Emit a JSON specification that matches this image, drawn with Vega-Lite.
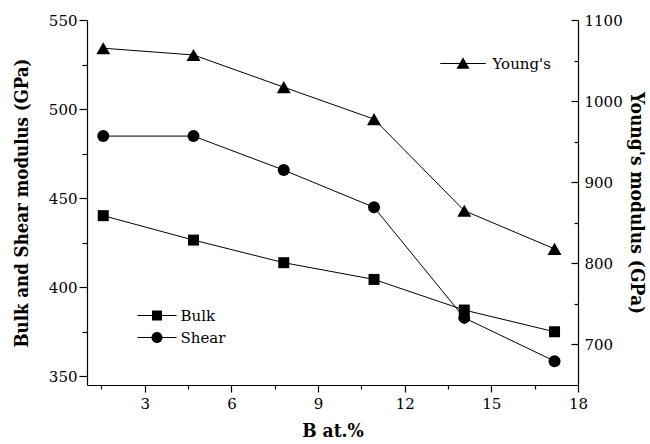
{
  "$schema": "https://vega.github.io/schema/vega-lite/v6.json",
  "width": 491,
  "height": 365,
  "autosize": {"type": "none"},
  "padding": {"left": 87, "top": 20, "right": 72, "bottom": 59},
  "config": {
    "view": {"stroke": null},
    "font": "DejaVu Serif",
    "axis": {
      "grid": false,
      "labelFont": "DejaVu Serif",
      "labelFontSize": 15,
      "labelColor": "black",
      "titleFont": "DejaVu Serif Condensed, DejaVu Serif",
      "titleFontSize": 19,
      "titleFontWeight": "bold",
      "titleColor": "black",
      "domainColor": "black",
      "domainWidth": 1.2,
      "tickColor": "black",
      "tickWidth": 1.2
    },
    "legend": {"labelFont": "DejaVu Serif", "labelFontSize": 15, "labelColor": "black"}
  },
  "data": {
    "values": [
      {"x": 1.5625, "series": "Bulk", "value": 440.1},
      {"x": 4.6875, "series": "Bulk", "value": 426.4},
      {"x": 7.8125, "series": "Bulk", "value": 413.7},
      {"x": 10.9375, "series": "Bulk", "value": 404.3},
      {"x": 14.0625, "series": "Bulk", "value": 387.1},
      {"x": 17.1875, "series": "Bulk", "value": 374.9},
      {"x": 1.5625, "series": "Shear", "value": 484.8},
      {"x": 4.6875, "series": "Shear", "value": 484.8},
      {"x": 7.8125, "series": "Shear", "value": 465.7},
      {"x": 10.9375, "series": "Shear", "value": 444.8},
      {"x": 14.0625, "series": "Shear", "value": 382.7},
      {"x": 17.1875, "series": "Shear", "value": 358.4},
      {"x": 1.5625, "series": "Young's", "value": 1065.2},
      {"x": 4.6875, "series": "Young's", "value": 1056.9},
      {"x": 7.8125, "series": "Young's", "value": 1017.2},
      {"x": 10.9375, "series": "Young's", "value": 977.8},
      {"x": 14.0625, "series": "Young's", "value": 864.9},
      {"x": 17.1875, "series": "Young's", "value": 817.8}
    ]
  },
  "encoding": {
    "x": {
      "field": "x",
      "type": "quantitative",
      "scale": {"domain": [1, 18], "nice": false, "zero": false},
      "axis": {
        "title": "B at.%",
        "values": [1.5, 3, 4.5, 6, 7.5, 9, 10.5, 12, 13.5, 15, 16.5, 18],
        "labelExpr": "datum.value % 3 === 0 ? datum.label : ''",
        "tickSize": {"condition": {"test": "datum.value % 3 === 0", "value": 7}, "value": 4},
        "labelPadding": 4,
        "titlePadding": 10,
        "labelFlush": false
      }
    }
  },
  "layer": [
    {
      "transform": [{"filter": {"field": "series", "oneOf": ["Bulk", "Shear"]}}],
      "encoding": {
        "y": {
          "field": "value",
          "type": "quantitative",
          "scale": {"domain": [345, 550], "nice": false, "zero": false},
          "axis": {
            "orient": "left",
            "title": "Bulk and Shear modulus (GPa)",
            "titleFontSize": 18.5,
            "values": [350, 375, 400, 425, 450, 475, 500, 525, 550],
            "labelExpr": "datum.value % 50 === 0 ? datum.label : ''",
            "tickSize": {"condition": {"test": "datum.value % 50 === 0", "value": 8}, "value": 5},
            "labelPadding": 2,
            "titlePadding": 17,
            "labelFlush": false
          }
        }
      },
      "layer": [
        {
          "mark": {"type": "line", "color": "black", "strokeWidth": 1},
          "encoding": {"detail": {"field": "series", "type": "nominal"}}
        },
        {
          "transform": [{"filter": {"field": "series", "equal": "Bulk"}}],
          "mark": {"type": "point", "shape": "square", "filled": true, "color": "black", "size": 121, "opacity": 1}
        },
        {
          "transform": [{"filter": {"field": "series", "equal": "Shear"}}],
          "mark": {"type": "point", "shape": "circle", "filled": true, "color": "black", "size": 144, "opacity": 1}
        },
        {
          "mark": {"type": "point", "filled": true, "color": "black", "opacity": 0},
          "encoding": {
            "shape": {
              "field": "series",
              "type": "nominal",
              "scale": {
                "domain": ["Bulk", "Shear"],
                "range": [
                  "M-3,-0.08L3,-0.08L3,0.08L-3,0.08Z M-0.77,-0.77L0.77,-0.77L0.77,0.77L-0.77,0.77Z",
                  "M-3,-0.08L3,-0.08L3,0.08L-3,0.08Z M0.85,0A0.85,0.85 0 1,1 -0.85,0A0.85,0.85 0 1,1 0.85,0Z"
                ]
              },
              "legend": {
                "title": null,
                "orient": "none",
                "legendX": 62.5,
                "legendY": 288,
                "padding": 0,
                "symbolSize": 169,
                "symbolOpacity": 1,
                "symbolFillColor": "black",
                "symbolStrokeWidth": 0,
                "labelOffset": 16,
                "rowPadding": 6
              }
            }
          }
        }
      ]
    },
    {
      "transform": [{"filter": {"field": "series", "equal": "Young's"}}],
      "encoding": {
        "y": {
          "field": "value",
          "type": "quantitative",
          "scale": {"domain": [650, 1100], "nice": false, "zero": false},
          "axis": {
            "orient": "right",
            "title": "Young's modulus (GPa)",
            "format": "d",
            "values": [700, 750, 800, 850, 900, 950, 1000, 1050, 1100],
            "labelExpr": "datum.value % 100 === 0 ? datum.label : ''",
            "tickSize": {"condition": {"test": "datum.value % 100 === 0", "value": -7}, "value": -4},
            "labelPadding": 13,
            "titlePadding": 4,
            "labelFlush": false
          }
        }
      },
      "layer": [
        {
          "mark": {"type": "line", "color": "black", "strokeWidth": 1},
          "encoding": {}
        },
        {
          "mark": {"type": "point", "shape": "triangle-up", "filled": true, "color": "black", "size": 196, "opacity": 1}
        },
        {
          "mark": {"type": "point", "filled": true, "color": "black", "opacity": 0},
          "encoding": {
            "shape": {
              "field": "series",
              "type": "nominal",
              "scale": {
                "domain": ["Young's"],
                "range": ["M-3.5,-0.08L3.5,-0.08L3.5,0.08L-3.5,0.08Z M0,-0.95L1,0.8L-1,0.8Z"]
              },
              "legend": {
                "title": null,
                "orient": "none",
                "legendX": 368.5,
                "legendY": 36,
                "padding": 0,
                "symbolSize": 169,
                "symbolOpacity": 1,
                "symbolFillColor": "black",
                "symbolStrokeWidth": 0,
                "labelOffset": 22
              }
            }
          }
        }
      ]
    }
  ],
  "resolve": {
    "scale": {"y": "independent", "shape": "independent"},
    "legend": {"shape": "independent"}
  }
}
